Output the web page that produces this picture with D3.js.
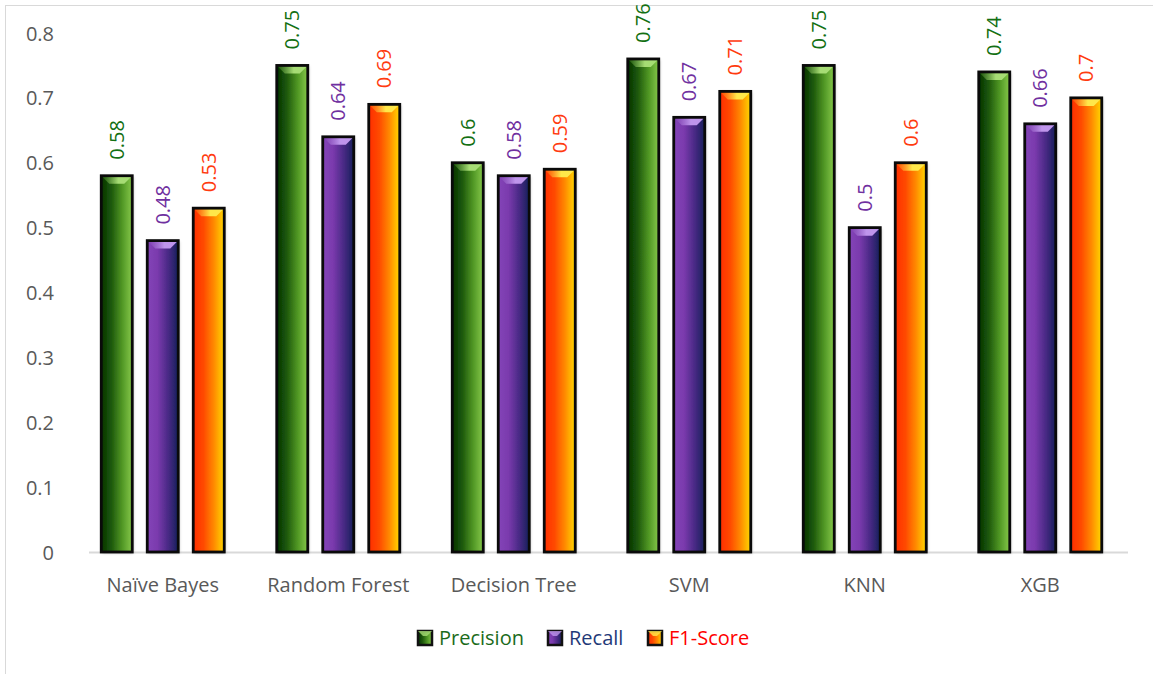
<!DOCTYPE html>
<html>
<head>
<meta charset="utf-8">
<script src="https://cdn.jsdelivr.net/npm/d3@7"></script>
<style>
  html, body { margin: 0; padding: 0; background: #fff; }
  svg { display: block; font-family: "Open Sans", "Liberation Sans", sans-serif; }
</style>
</head>
<body>
<svg id="chart" width="1153" height="674"></svg>
<script>
// Model names along the x axis
const categories = ["Naïve Bayes", "Random Forest", "Decision Tree", "SVM", "KNN", "XGB"];
// Scores per model
const precision = [0.58, 0.75, 0.60, 0.76, 0.75, 0.74];
const recall    = [0.48, 0.64, 0.58, 0.67, 0.50, 0.66];
const f1Score   = [0.53, 0.69, 0.59, 0.71, 0.60, 0.70];
const seriesNames = ["Precision", "Recall", "F1-Score"];
const yTicks = [0, 0.1, 0.2, 0.3, 0.4, 0.5, 0.6, 0.7, 0.8];

const series = [
  { name: seriesNames[0], values: precision, key: "prec",
    stops: ["#003200", "#1f5a0c", "#4f9624", "#86c84a"], top: "#a6dc74",
    label: "#137013", legend: "#1b6b1b" },
  { name: seriesNames[1], values: recall, key: "rec",
    stops: ["#8445b8", "#7a3aad", "#4a2a86", "#16205a"], top: "#bf95ec",
    label: "#7030a0", legend: "#1f3a78" },
  { name: seriesNames[2], values: f1Score, key: "f1",
    stops: ["#ff2e00", "#ff4a00", "#ff8a00", "#ffd800"], top: "#ffe84a",
    label: "#ff3b0f", legend: "#ff0000" }
];

const svg = d3.select("#chart");
const margin = { left: 75, right: 25, top: 33, bottom: 122 };
const W = 1153, H = 674;
const plotL = margin.left, plotR = W - margin.right;
const plotT = margin.top, plotB = H - margin.bottom;

// Outer frame of the chart area
svg.append("rect")
  .attr("x", 5.5).attr("y", 5.5)
  .attr("width", W + 20).attr("height", H + 20)
  .attr("fill", "none").attr("stroke", "#d9d9d9").attr("stroke-width", 1);

const x0 = d3.scaleBand().domain(categories).range([plotL, plotR]).paddingInner(0).paddingOuter(0);
const barW = 31, barGap = 15;
const groupW = 3 * barW + 2 * barGap;
const y = d3.scaleLinear().domain([0, 0.8]).range([plotB, plotT]);

// Gradients and shadow
const defs = svg.append("defs");
series.forEach(s => {
  const g = defs.append("linearGradient").attr("id", "grad-" + s.key)
    .attr("x1", "0%").attr("x2", "100%").attr("y1", "0%").attr("y2", "0%");
  s.stops.forEach((c, i) => g.append("stop").attr("offset", (i / (s.stops.length - 1) * 100) + "%").attr("stop-color", c));
  const t = defs.append("linearGradient").attr("id", "top-" + s.key)
    .attr("x1", "0%").attr("x2", "100%").attr("y1", "0%").attr("y2", "0%");
  t.append("stop").attr("offset", "0%").attr("stop-color", s.stops[1]).attr("stop-opacity", 0.7);
  t.append("stop").attr("offset", "55%").attr("stop-color", s.top);
  t.append("stop").attr("offset", "100%").attr("stop-color", s.top);
});
const shadow = defs.append("filter").attr("id", "shadow")
  .attr("x", "-30%").attr("y", "-10%").attr("width", "160%").attr("height", "120%");
shadow.append("feDropShadow").attr("dx", 1).attr("dy", 1).attr("stdDeviation", 1.5)
  .attr("flood-color", "#000").attr("flood-opacity", 0.3);

// Y axis labels
const yAxis = d3.axisLeft(y).tickValues(yTicks).tickSize(0).tickPadding(0)
  .tickFormat(d => d3.format("")(+d.toFixed(1)));
const yg = svg.append("g").attr("transform", `translate(${plotL - 21},0)`).call(yAxis);
yg.select(".domain").remove();
yg.selectAll("text").attr("font-size", 20).attr("fill", "#595959")
  .attr("font-family", "'Open Sans', sans-serif").attr("dy", "0.35em");

// Baseline
svg.append("line")
  .attr("x1", plotL + 14).attr("x2", plotR).attr("y1", y(0) + 0.5).attr("y2", y(0) + 0.5)
  .attr("stroke", "#d9d9d9").attr("stroke-width", 2);

// X axis labels
const xAxis = d3.axisBottom(x0).tickSize(0).tickPadding(0);
const xg = svg.append("g").attr("transform", `translate(0,${plotB + 33})`).call(xAxis);
xg.select(".domain").remove();
xg.selectAll("text").attr("font-size", 20).attr("fill", "#595959")
  .attr("font-family", "'Open Sans', sans-serif").attr("dy", "0.35em");

// Bars with a beveled top facet
const bev = 8;
series.forEach((s, si) => {
  const g = svg.append("g").attr("class", "series-" + s.key);
  categories.forEach((c, ci) => {
    const v = s.values[ci];
    const bx = x0(c) + (x0.bandwidth() - groupW) / 2 + si * (barW + barGap);
    const by = y(v);
    const bh = y(0) - by;
    const bar = g.append("g");
    bar.append("rect")
      .attr("x", bx).attr("y", by).attr("width", barW).attr("height", bh)
      .attr("fill", `url(#grad-${s.key})`).attr("filter", "url(#shadow)");
    bar.append("path")
      .attr("d", `M${bx},${by}L${bx + barW},${by}L${bx + barW - bev},${by + bev}L${bx + bev},${by + bev}Z`)
      .attr("fill", `url(#top-${s.key})`);
    bar.append("rect")
      .attr("x", bx).attr("y", by).attr("width", barW).attr("height", bh)
      .attr("fill", "none").attr("stroke", "#0a0a0a").attr("stroke-width", 2.8);
    // value label, rotated
    const lx = bx + barW / 2;
    const ly = by - 16;
    g.append("text")
      .attr("transform", `translate(${lx + 7},${ly}) rotate(-90)`)
      .attr("font-size", 20).attr("fill", s.label)
      .attr("text-anchor", "start")
      .text(d3.format("")(v));
  });
});

// Legend
const legendItems = [
  { s: series[0], x: 418 },
  { s: series[1], x: 548 },
  { s: series[2], x: 648 }
];
const ly0 = 638;
legendItems.forEach(it => {
  const g = svg.append("g").attr("transform", `translate(${it.x},${ly0})`);
  g.append("rect").attr("x", 0).attr("y", -7).attr("width", 14).attr("height", 14)
    .attr("fill", `url(#grad-${it.s.key})`).attr("stroke", "#111").attr("stroke-width", 2.5);
  g.append("path").attr("d", "M0,-7L14,-7L9,-2L5,-2Z").attr("fill", it.s.top).attr("opacity", 0.8);
  g.append("text").attr("x", 21).attr("y", 0).attr("dy", "0.35em")
    .attr("font-size", 20).attr("fill", it.s.legend).text(it.s.name);
});
</script>
</body>
</html>
